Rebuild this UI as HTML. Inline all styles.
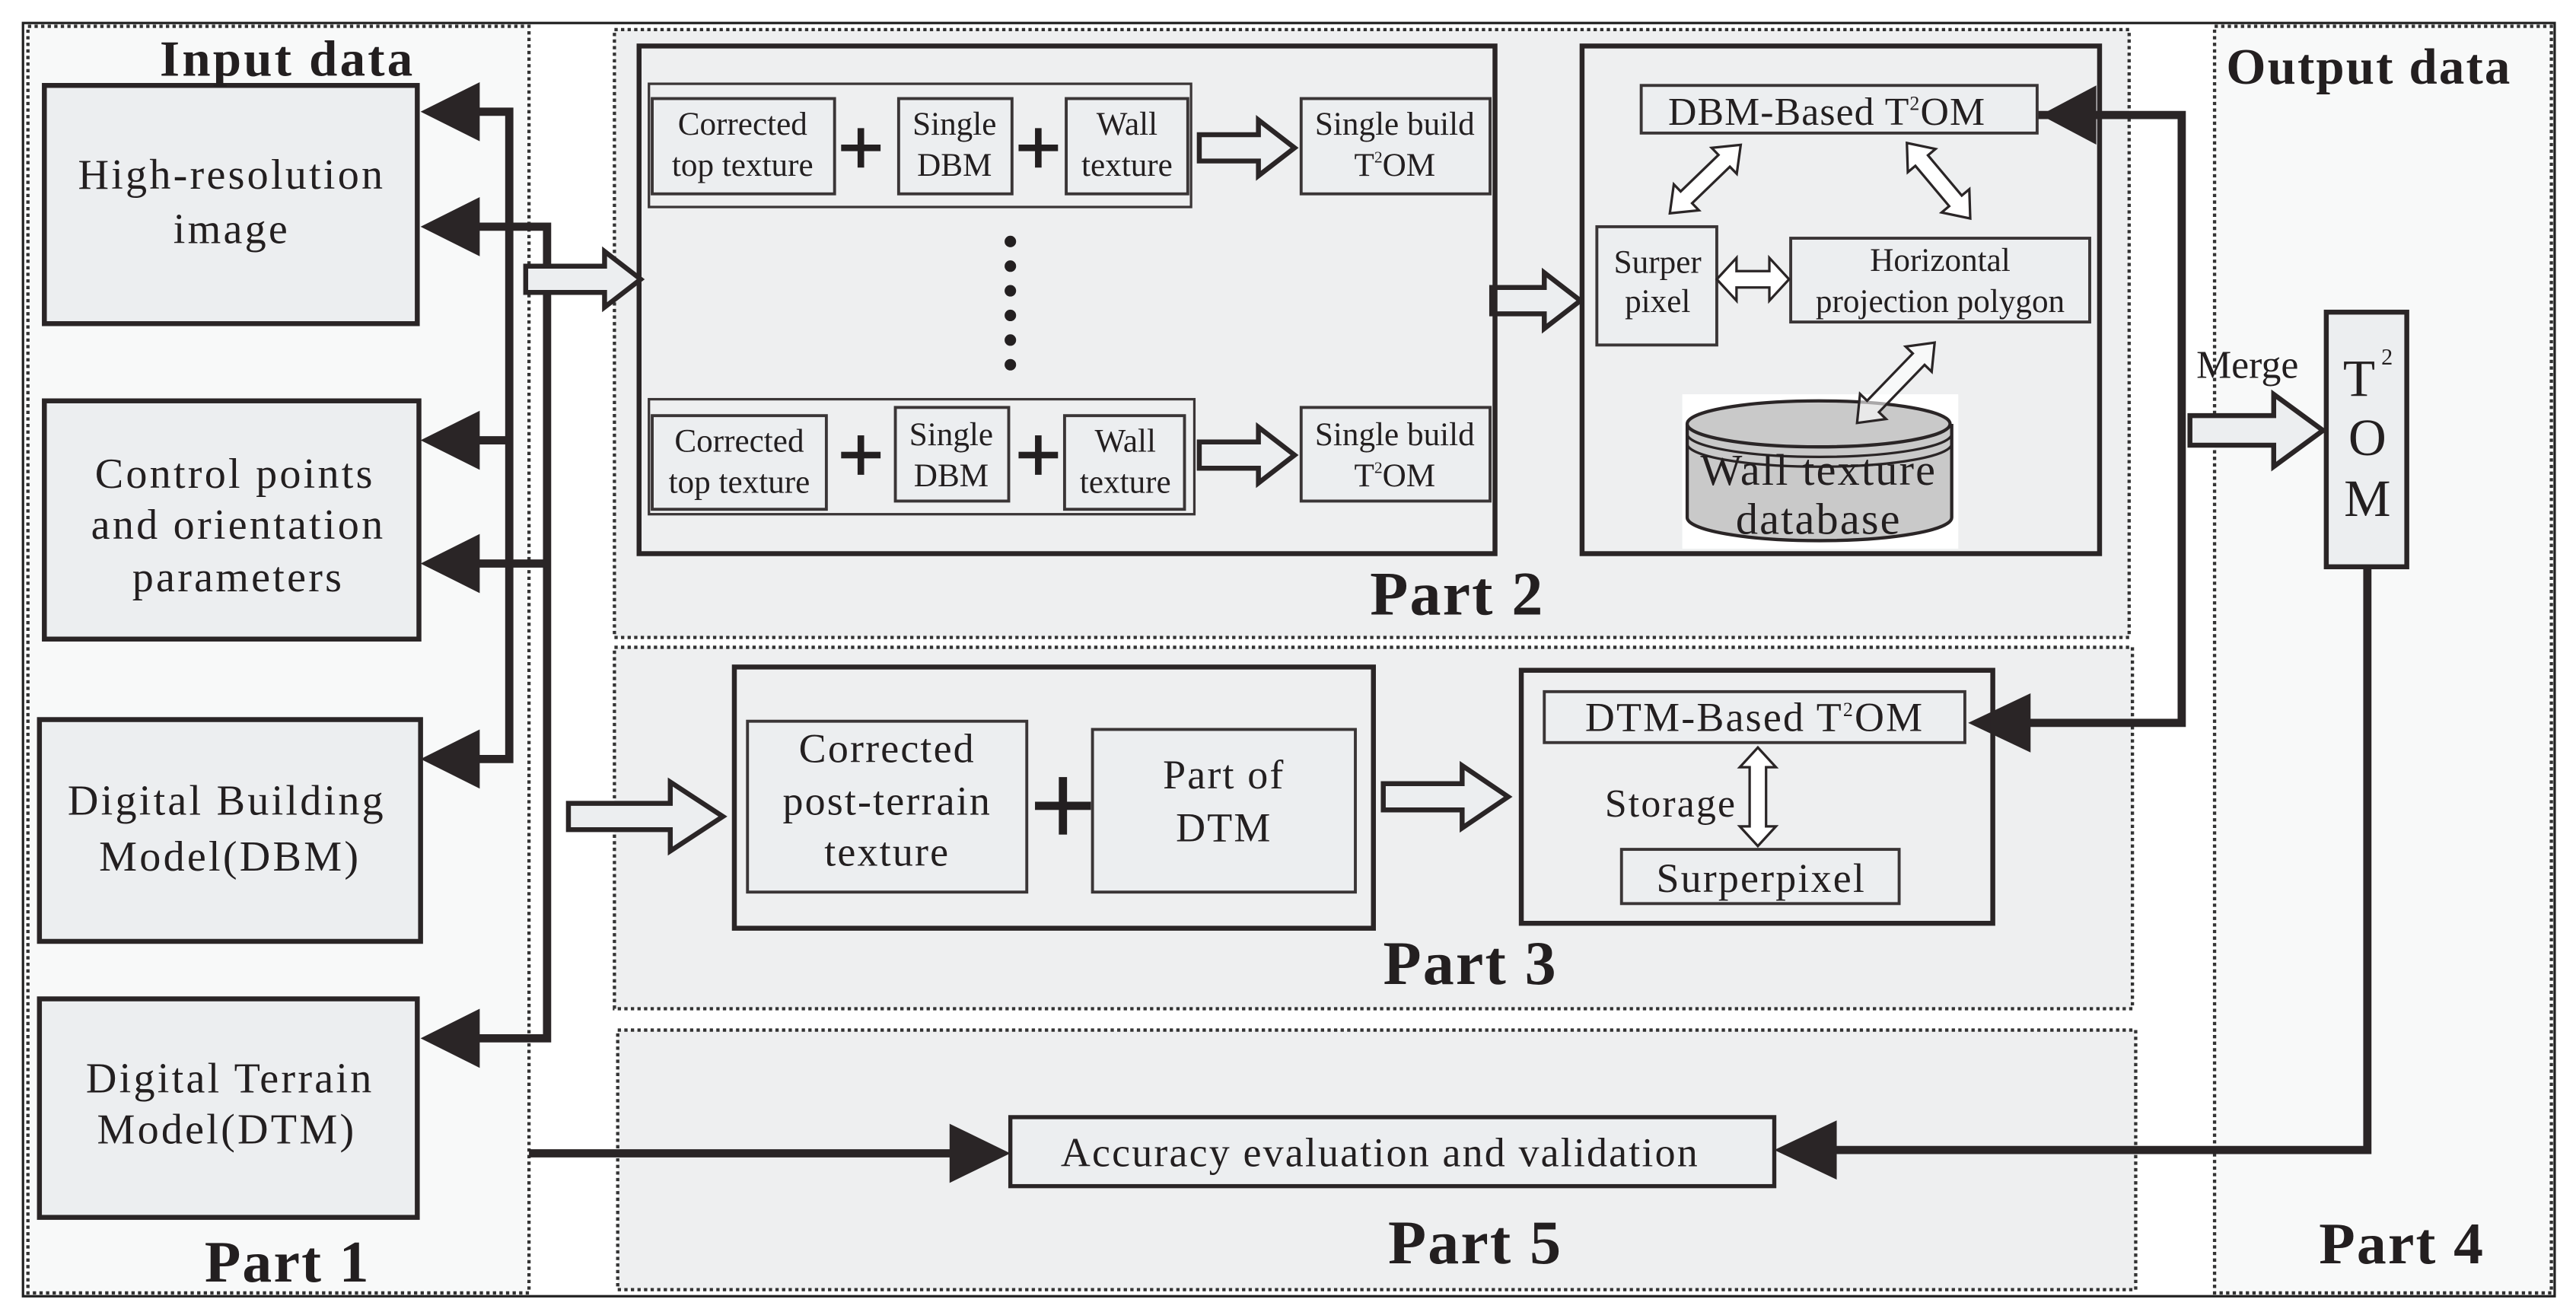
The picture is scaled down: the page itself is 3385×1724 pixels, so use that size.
<!DOCTYPE html>
<html><head><meta charset="utf-8"><style>
html,body{margin:0;padding:0;background:#fff;}
svg{display:block;}
text{font-family:"Liberation Serif",serif;fill:#231f20;}
.b{font-weight:bold;}
</style></head><body>
<svg width="3385" height="1724" viewBox="0 0 1568 798.6" preserveAspectRatio="none" xmlns="http://www.w3.org/2000/svg">
<rect x="0" y="0" width="1568" height="798.6" fill="#fff"/>
<rect x="14" y="14" width="1541" height="775" fill="none" stroke="#222" stroke-width="1.5"/>
<g stroke="#333" stroke-width="2" stroke-dasharray="2,2">
<rect x="17" y="16" width="305" height="771" fill="#f8f9f9"/>
<rect x="374" y="18" width="922" height="370" fill="#eeeff0"/>
<rect x="374" y="394" width="924" height="220" fill="#eeeff0"/>
<rect x="376" y="627" width="924" height="158" fill="#eeeff0"/>
<rect x="1348" y="16" width="205" height="771" fill="#f8f9f9"/>
</g>
<g fill="#eceef0" stroke="#2a2526" stroke-width="3">
<rect x="27" y="52" width="227" height="145"/>
<rect x="27" y="244" width="228" height="145"/>
<rect x="24" y="438" width="232" height="135"/>
<rect x="24" y="608" width="230" height="133"/>
</g>
<g font-size="26" text-anchor="middle" letter-spacing="1.5">
<text x="141" y="115">High-resolution</text>
<text x="141" y="148">image</text>
<text x="143" y="297">Control points</text>
<text x="145" y="328">and orientation</text>
<text x="145" y="360">parameters</text>
<text x="138" y="496">Digital Building</text>
<text x="140" y="530">Model(DBM)</text>
<text x="140" y="665">Digital Terrain</text>
<text x="138" y="696">Model(DTM)</text>
</g>
<text class="b" x="175" y="46" font-size="31" text-anchor="middle" letter-spacing="1.5">Input data</text>
<text class="b" x="175" y="780" font-size="36" text-anchor="middle" letter-spacing="1">Part 1</text>
<text class="b" x="1442" y="51" font-size="31" text-anchor="middle" letter-spacing="1">Output data</text>
<text class="b" x="1462" y="769" font-size="36" text-anchor="middle" letter-spacing="1">Part 4</text>
<text class="b" x="887" y="374" font-size="38" text-anchor="middle" letter-spacing="1">Part 2</text>
<text class="b" x="895" y="599" font-size="38" text-anchor="middle" letter-spacing="1">Part 3</text>
<text class="b" x="898" y="769" font-size="38" text-anchor="middle" letter-spacing="1">Part 5</text>

<g stroke="#2a2526" stroke-width="5" fill="none">
<polyline points="290,68 310,68 310,462 290,462"/>
<line x1="290" y1="268" x2="310" y2="268"/>
<polyline points="290,138 333,138 333,632 290,632"/>
<line x1="290" y1="343" x2="333" y2="343"/>
<polyline points="1240,70 1328,70 1328,440 1235,440"/>
<polyline points="1441,345 1441,700 1115,700"/>
<line x1="322" y1="702" x2="580" y2="702"/>
</g>
<g fill="#2a2526">
<polygon points="256,68 292,50 292,86"/>
<polygon points="256,138 292,120 292,156"/>
<polygon points="256,268 292,250 292,286"/>
<polygon points="256,343 292,325 292,361"/>
<polygon points="256,462 292,444 292,480"/>
<polygon points="256,632 292,614 292,650"/>
<polygon points="1242,70 1276,52 1276,88"/>
<polygon points="1198,440 1236,422 1236,458"/>
<polygon points="1080,700 1118,682 1118,718"/>
<polygon points="615,702 578,684 578,720"/>
</g>

<g fill="#eceef0" stroke="#2a2526" stroke-width="3">
<polygon points="320,162 368,162 368,153 390,170 368,187 368,178 320,178"/>
<polygon points="730,82 766,82 766,73 788,90 766,107 766,98 730,98"/>
<polygon points="730,269 766,269 766,260 788,277 766,294 766,285 730,285"/>
<polygon points="908,175 940,175 940,166 962,183 940,200 940,191 908,191"/>
<polygon points="346,489 408,489 408,476 440,497 408,518 408,505 346,505"/>
<polygon points="842,477 890,477 890,466 918,485 890,504 890,493 842,493"/>
<polygon points="1333,253 1384,253 1384,240 1414,262 1384,284 1384,271 1333,271"/>
</g>

<g fill="none" stroke="#2a2526" stroke-width="3">
<rect x="389" y="28" width="521" height="309"/>
<rect x="963" y="28" width="315" height="309"/>
</g>
<g fill="none" stroke="#3a3536" stroke-width="1.5">
<rect x="395" y="51" width="330" height="75"/>
<rect x="395" y="243" width="332" height="70"/>
</g>
<g fill="#eceef0" stroke="#3a3536" stroke-width="1.8">
<rect x="397" y="60" width="111" height="58"/>
<rect x="547" y="60" width="69" height="58"/>
<rect x="649" y="60" width="74" height="58"/>
<rect x="792" y="60" width="115" height="58"/>
<rect x="397" y="253" width="106" height="57"/>
<rect x="545" y="248" width="69" height="57"/>
<rect x="648" y="253" width="73" height="57"/>
<rect x="792" y="248" width="115" height="57"/>
<rect x="999" y="52" width="241" height="29"/>
<rect x="972" y="138" width="73" height="72"/>
<rect x="1090" y="145" width="182" height="51"/>
</g>
<g font-size="20" text-anchor="middle">
<text x="452" y="82">Corrected</text><text x="452" y="107">top texture</text>
<text x="581" y="82">Single</text><text x="581" y="107">DBM</text>
<text x="686" y="82">Wall</text><text x="686" y="107">texture</text>
<text x="849" y="82">Single build</text><text x="849" y="107">T<tspan font-size="10" dy="-8">2</tspan><tspan dy="8">OM</tspan></text>
<text x="450" y="275">Corrected</text><text x="450" y="300">top texture</text>
<text x="579" y="271">Single</text><text x="579" y="296">DBM</text>
<text x="685" y="275">Wall</text><text x="685" y="300">texture</text>
<text x="849" y="271">Single build</text><text x="849" y="296">T<tspan font-size="10" dy="-8">2</tspan><tspan dy="8">OM</tspan></text>
<text x="1009" y="166">Surper</text><text x="1009" y="190">pixel</text>
<text x="1181" y="165">Horizontal</text><text x="1181" y="190">projection polygon</text>
</g>
<text x="1112" y="76" font-size="24" text-anchor="middle" letter-spacing="0.5">DBM-Based T<tspan font-size="12" dy="-9">2</tspan><tspan dy="9">OM</tspan></text>
<g fill="#231f20">
<rect x="512" y="88" width="24" height="4"/><rect x="522" y="78" width="4" height="24"/>
<rect x="620" y="88" width="24" height="4"/><rect x="630" y="78" width="4" height="24"/>
<rect x="512" y="275" width="24" height="4"/><rect x="522" y="265" width="4" height="24"/>
<rect x="620" y="275" width="24" height="4"/><rect x="630" y="265" width="4" height="24"/>
<rect x="630" y="488" width="34" height="5"/><rect x="644.5" y="473" width="5" height="35"/>
</g>
<g fill="#231f20">
<circle cx="615" cy="147" r="3.5"/><circle cx="615" cy="162" r="3.5"/><circle cx="615" cy="177" r="3.5"/>
<circle cx="615" cy="192" r="3.5"/><circle cx="615" cy="207" r="3.5"/><circle cx="615" cy="222" r="3.5"/>
</g>
<g fill="#fff" stroke="#2a2526" stroke-width="1.5">
<polygon transform="translate(1038,109) rotate(-44)" points="-30,0 -16,-11 -16,-5 16,-5 16,-11 30,0 16,11 16,5 -16,5 -16,11"/>
<polygon transform="translate(1180,110) rotate(50)" points="-30,0 -16,-11 -16,-5 16,-5 16,-11 30,0 16,11 16,5 -16,5 -16,11"/>
<polygon transform="translate(1067,170)" points="-22,0 -10,-13 -10,-5 10,-5 10,-13 22,0 10,13 10,5 -10,5 -10,13"/>
</g>
<rect x="1024" y="240" width="168" height="94" fill="#fff"/>
<path d="M1027,258 L1027,315 A80,14 0 0 0 1188,315 L1188,258" fill="#c9c9c9" stroke="#2a2526" stroke-width="2"/>
<ellipse cx="1107" cy="258" rx="80" ry="14" fill="#c9c9c9" stroke="#2a2526" stroke-width="2"/>
<path d="M1027,264 A80,14 0 0 0 1188,264 M1027,270 A80,14 0 0 0 1188,270" fill="none" stroke="#2a2526" stroke-width="1.5"/>
<text x="1107" y="295" font-size="27" text-anchor="middle" letter-spacing="1">Wall texture</text>
<text x="1107" y="325" font-size="27" text-anchor="middle" letter-spacing="1">database</text>
<polygon transform="translate(1154,233) rotate(-46)" points="-34,0 -20,-11 -20,-5 20,-5 20,-11 34,0 20,11 20,5 -20,5 -20,11" fill="#fff" fill-opacity="0.6" stroke="#2a2526" stroke-width="1.5"/>

<rect x="1416" y="190" width="49" height="155" fill="#eceef0" stroke="#2a2526" stroke-width="3"/>
<g font-size="32" text-anchor="middle">
<text x="1436" y="241">T</text><text x="1453" y="222" font-size="14">2</text>
<text x="1441" y="277">O</text>
<text x="1441" y="314">M</text>
</g>
<text x="1368" y="230" font-size="24" text-anchor="middle">Merge</text>

<g fill="none" stroke="#2a2526" stroke-width="3">
<rect x="447" y="406" width="389" height="159"/>
<rect x="926" y="408" width="287" height="154"/>
</g>
<g fill="#eceef0" stroke="#3a3536" stroke-width="1.8">
<rect x="455" y="439" width="170" height="104"/>
<rect x="665" y="444" width="160" height="99"/>
<rect x="940" y="421" width="256" height="31"/>
<rect x="987" y="517" width="169" height="33"/>
</g>
<g font-size="25" text-anchor="middle" letter-spacing="1">
<text x="540" y="464">Corrected</text>
<text x="540" y="496">post-terrain</text>
<text x="540" y="527">texture</text>
<text x="745" y="480">Part of</text>
<text x="745" y="512">DTM</text>
<text x="1068" y="445">DTM-Based T<tspan font-size="12" dy="-9">2</tspan><tspan dy="9">OM</tspan></text>
<text x="1017" y="497" font-size="24">Storage</text>
<text x="1072" y="543">Surperpixel</text>
</g>
<polygon transform="translate(1070,485) rotate(90)" points="-30,0 -18,-11 -18,-5 18,-5 18,-11 30,0 18,11 18,5 -18,5 -18,11" fill="#fff" stroke="#2a2526" stroke-width="1.5"/>

<rect x="615" y="680" width="465" height="42" fill="#eceef0" stroke="#2a2526" stroke-width="2.5"/>
<text x="840" y="710" font-size="25" text-anchor="middle" letter-spacing="1">Accuracy evaluation and validation</text>
</svg>
</body></html>
